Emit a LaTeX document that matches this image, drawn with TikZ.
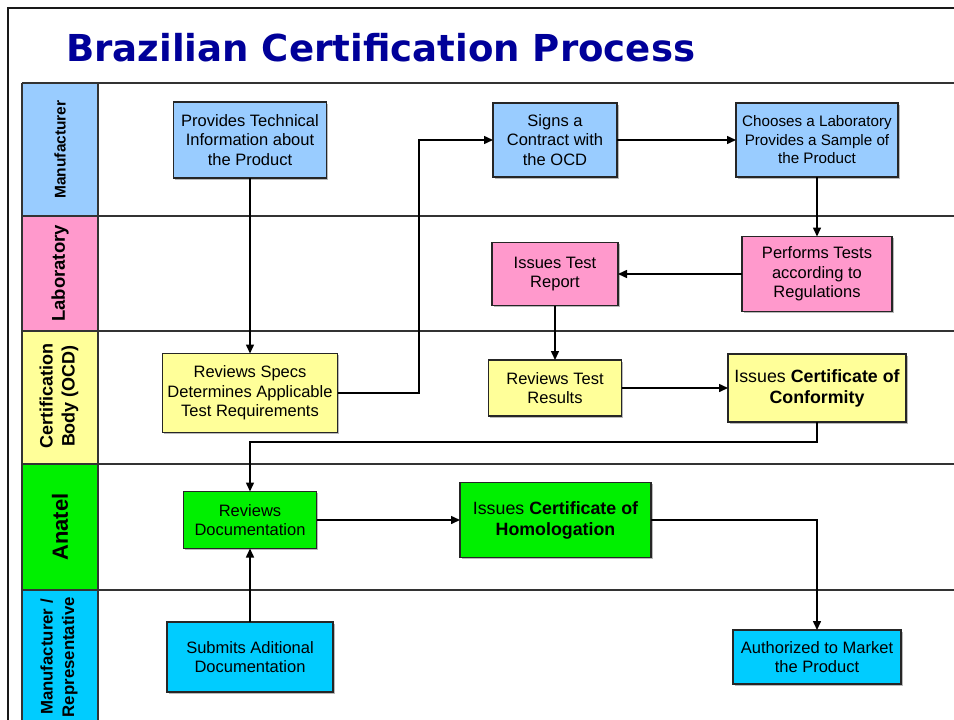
\documentclass[tikz,border=0pt]{standalone}
\usepackage{fontspec}
\setmainfont{Liberation Sans}
\newfontfamily\titlefont{DejaVu Sans}
\usetikzlibrary{shadows,arrows.meta}
\definecolor{mblue}{HTML}{99CCFF}
\definecolor{lpink}{HTML}{FF99CC}
\definecolor{cyel}{HTML}{FFFF99}
\definecolor{agreen}{HTML}{00F000}
\definecolor{rcyan}{HTML}{00CCFF}
\definecolor{tblue}{HTML}{000099}
\definecolor{lanegray}{HTML}{333333}
\tikzset{
  box/.style={draw=black!85, line width=1.3pt, align=center, inner sep=0pt, outer sep=0pt,
    font=\fontsize{16.5}{19.5}\selectfont,
    drop shadow={shadow xshift=1.5pt, shadow yshift=-1.5pt, fill=black!45, opacity=0.6}},
  certbox/.style={box, font=\fontsize{17.8}{21}\selectfont},
  arr/.style={line width=1.5pt, draw=black, -{Triangle[length=9pt,width=8pt]}},
  laneline/.style={draw=lanegray, line width=1.6pt},
  lanelab/.style={rotate=90, align=center, inner sep=0pt, font=\bfseries},
  frameline/.style={draw=black!90, line width=2pt}
}
\begin{document}
\begin{tikzpicture}[x=1pt,y=-1pt]
\useasboundingbox (0,0) rectangle (954,720);
\fill[white] (0,0) rectangle (954,720);
% outer frame
\draw[frameline] (8,730) -- (8,8) -- (960,8);
% title
\node[anchor=base west, inner sep=0pt, text=tblue, font=\titlefont\bfseries\fontsize{37.1}{40}\selectfont] (title) at (66,61) {Brazilian Certification Process};
% lane label fills
\fill[mblue] (22,83) rectangle (98,216);
\fill[lpink] (22,216) rectangle (98,331);
\fill[cyel] (22,331) rectangle (98,464);
\fill[agreen] (22,464) rectangle (98,590);
\fill[rcyan] (22,590) rectangle (98,730);
% lane lines
\foreach \yy in {83,216,331,464,590}{\draw[laneline] (22,\yy) -- (960,\yy);}
\draw[laneline] (22,83) -- (22,730);
\draw[laneline] (98,83) -- (98,730);
% lane labels
\node[lanelab, font=\bfseries\fontsize{15.5}{18}\selectfont] (lmanu) at (60,149.5) {Manufacturer};
\node[lanelab, font=\bfseries\fontsize{18.5}{21}\selectfont] (llab) at (60,273.5) {Laboratory};
\node[lanelab, font=\bfseries\fontsize{18}{22}\selectfont] (locd) at (59,396) {Certification\\Body (OCD)};
\node[lanelab, font=\bfseries\fontsize{22}{25}\selectfont] (lana) at (60,527) {Anatel};
\node[lanelab, font=\bfseries\fontsize{16.8}{21.5}\selectfont] (lrep) at (59,657) {Manufacturer /\\Representative};
% boxes
\node[box, fill=mblue, minimum width=153pt, minimum height=76pt] (prov) at (250,140) {Provides Technical\\Information about\\the Product};
\node[box, fill=mblue, minimum width=124pt, minimum height=74pt] (signs) at (555,140) {Signs a\\Contract with\\the OCD};
\node[box, fill=mblue, minimum width=162pt, minimum height=74pt, font=\fontsize{15.2}{18.5}\selectfont] (choose) at (817,140) {Chooses a Laboratory\\Provides a Sample of\\the Product};
\node[box, fill=lpink, minimum width=150pt, minimum height=75pt] (perf) at (817,274) {Performs Tests\\according to\\Regulations};
\node[box, fill=lpink, minimum width=126pt, minimum height=63pt] (itr) at (555,274) {Issues Test\\Report};
\node[box, fill=cyel, minimum width=175pt, minimum height=79pt] (revspec) at (250,393) {Reviews Specs\\Determines Applicable\\Test Requirements};
\node[box, fill=cyel, minimum width=133pt, minimum height=56pt] (rtr) at (555,388) {Reviews Test\\Results};
\node[certbox, fill=cyel, minimum width=178pt, minimum height=68pt] (icc) at (817,388) {Issues \textbf{Certificate of}\\\textbf{Conformity}};
\node[box, fill=agreen, minimum width=133pt, minimum height=57pt] (revdoc) at (250,520) {Reviews\\Documentation};
\node[certbox, fill=agreen, minimum width=191pt, minimum height=75pt] (ich) at (555.5,520) {Issues \textbf{Certificate of}\\\textbf{Homologation}};
\node[box, fill=rcyan, minimum width=166pt, minimum height=70pt] (sub) at (250,657) {Submits Aditional\\Documentation};
\node[box, fill=rcyan, minimum width=168pt, minimum height=54pt] (auth) at (817,657) {Authorized to Market\\the Product};
% connectors
\draw[arr] (prov) -- (revspec);
\draw[arr] (revspec.east) -- ++(81.5,0) |- (signs.west);
\draw[arr] (signs) -- (choose);
\draw[arr] (choose) -- (perf);
\draw[arr] (perf) -- (itr);
\draw[arr] (itr) -- (rtr);
\draw[arr] (rtr) -- (icc);
\draw[arr] (icc.south) -- ++(0,20) -| (revdoc.north);
\draw[arr] (revdoc) -- (ich);
\draw[arr] (ich.east) -| (auth.north);
\draw[arr] (sub) -- (revdoc);
\end{tikzpicture}
\end{document}
